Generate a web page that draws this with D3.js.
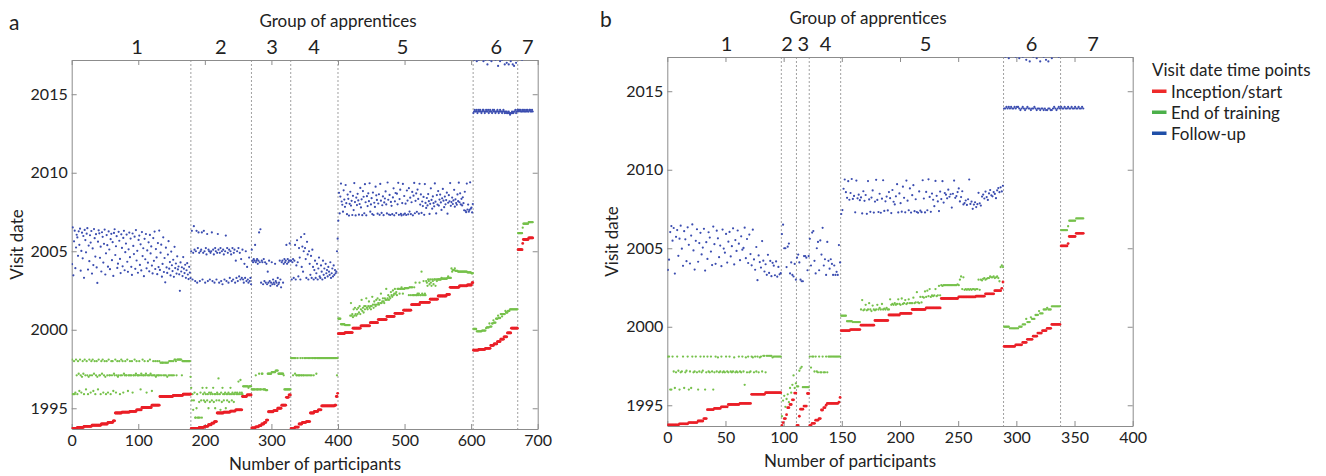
<!DOCTYPE html>
<html>
<head>
<meta charset="utf-8">
<script src="https://cdn.jsdelivr.net/npm/d3@7"></script>
<style>
body { margin: 0; background: #fff; }
text { font-family: Lato, "Open Sans", sans-serif; fill: #222; }
</style>
</head>
<body>
<div id="chart-area"></div>
<script>
/*
*    visit dates per participant, two panels (a, b)
*/

// ---- shared ----
var groupNames = ["1", "2", "3", "4", "5", "6", "7"];
var yearTicks = [1995, 2000, 2005, 2010, 2015];
var yearDomain = [1993.68, 2017.18];
var legendTitle = "Visit date time points";
var legendLabels = ["Inception/start", "End of training", "Follow-up"];
var legendColors = ["#ee2a2a", "#4cb04a", "#1f4fa8"];

// runs: [count, year] repeats a value, a plain number is one participant

// ---- panel a ----
var groupsA = [179, 91, 59, 71, 203, 67, 23];
var groupLabelPosA = [98, 224, 301, 364, 497, 638, 685];
var xTicksA = [0, 100, 200, 300, 400, 500, 600, 700];

var inceptionA = [
  // 1
  [8,1993.72],[10,1993.78],[12,1993.85],[14,1993.92],[10,1994.0],[8,1994.1],[3,1994.2],
  [10,1994.7],[12,1994.75],[10,1994.8],[8,1994.9],[15,1995.05],[12,1995.2],
  [20,1995.75],[15,1995.82],[12,1995.9],
  // 2
  [12,1993.72],[8,1993.78],[6,1993.85],[5,1993.95],[4,1994.05],[4,1994.15],
  [10,1994.7],[10,1994.75],[8,1994.82],[10,1994.9],[7,1995.75],[7,1995.85],
  // 3
  [6,1993.75],[5,1993.82],[4,1993.9],[4,1994.0],[3,1994.1],[3,1994.25],
  [8,1994.78],[6,1994.85],[6,1995.0],[7,1995.2],[4,1995.7],[3,1995.85],
  // 4
  [6,1993.72],[6,1993.8],[5,1994.0],[6,1994.1],[6,1994.15],
  [6,1994.7],[6,1994.8],[5,1994.9],[20,1995.15],[2,1995.2],[2,1995.75],[1,1995.95],
  // 5
  [10,1999.75],[12,1999.82],[12,2000.1],[14,2000.25],[12,2000.45],[13,2000.65],[12,2000.85],
  [13,2001.05],[12,2001.25],[13,2001.6],[15,2001.75],[12,2001.95],[13,2002.15],[5,2002.25],
  [14,2002.7],[12,2002.8],[7,2002.85],[2,2003.0],
  // 6
  [8,1998.7],[10,1998.75],[8,1998.82],[5,1999.0],[5,1999.1],[5,1999.25],[5,1999.4],[5,1999.55],[6,1999.8],[10,2000.1],
  // 7
  [7,2005.1],[1,2005.5],[8,2005.75],[7,2005.85]
];

var endTrainingA = [
  // 1
  1998.1,1995.9,1995.9,1998.0,1995.9,1996.0,1998.1,1997.1,1995.9,1998.0,
  1997.2,1996.1,1998.1,1997.1,1996.0,1997.0,1998.0,1997.2,1995.9,1998.1,
  1997.1,1996.2,1998.0,1997.1,1995.9,1997.0,1998.1,1997.1,1996.0,1998.0,
  1997.1,1998.1,1996.1,1997.2,1998.0,1995.9,1997.1,1998.0,1997.0,1996.2,
  1998.1,1997.1,1997.1,1995.9,1998.0,1997.2,1998.1,1996.0,1997.1,1998.0,
  1997.0,1995.9,1998.0,1997.1,1996.0,1998.1,1997.1,1997.1,1995.9,1998.0,
  1997.1,1998.0,1996.1,1997.2,1997.1,1998.1,1996.0,1997.1,1998.0,1997.0,
  1997.1,1998.0,1995.9,1997.1,1998.1,1997.1,1998.0,1996.0,1997.2,1997.1,
  1998.0,1997.1,1997.1,1998.1,1996.1,1997.1,1997.1,1998.0,1997.1,1997.1,
  1998.0,1996.0,1997.1,1997.1,1998.1,1997.1,1997.2,1998.0,1997.1,1997.1,
  1997.1,1998.0,1997.1,1996.2,1997.2,1997.1,1998.1,1997.1,1997.1,1998.0,
  1997.1,1997.2,1996.0,1997.1,1998.0,1997.1,1997.1,1998.1,1997.2,1997.1,
  1996.1,1997.1,1998.0,1997.1,1997.1,1998.0,1997.0,1997.1,1998.0,1997.1,
  1997.1,1998.0,1997.1,1997.9,1997.1,1997.9,1997.9,1997.1,1997.9,1997.1,
  1997.9,1997.1,1997.9,1997.0,1997.9,1997.1,1998.0,1997.1,1998.0,1997.1,
  1998.0,1997.1,1998.0,1997.1,1998.1,1998.1,1998.0,1997.1,1998.1,1998.1,
  [5,1998.1],1997.1,[12,1998.0],1997.0,
  // 2
  1996.3,1995.5,1995.9,1994.9,1995.5,1996.0,1994.4,1994.4,1995.0,1995.9,
  1994.4,1994.4,1995.4,1994.4,1996.0,1995.5,1994.4,1996.3,1995.9,1995.5,
  1996.0,1995.4,1995.9,1996.3,1995.5,1995.9,1995.0,1996.0,1995.4,1995.9,
  1996.0,1995.5,1995.9,1996.3,1995.4,1995.9,1995.0,1995.9,1995.5,1996.0,
  1995.9,1996.9,1995.5,1995.9,1994.9,1996.0,1995.4,1996.3,1995.9,1995.5,
  1995.9,1996.0,1995.0,1995.9,1995.5,1995.9,1996.0,1995.4,1995.9,1996.3,
  1995.9,1995.5,1996.0,1995.9,1995.4,1995.9,1996.0,1994.9,1995.9,1996.0,
  1995.9,1996.7,1995.9,1996.0,1996.8,1995.9,1996.0,1995.9,1996.4,1996.4,
  [6,1996.4],1996.3,[4,1996.4],
  // 3
  [6,1996.2],1997.1,[4,1996.2],1997.2,[3,1996.2],[2,1997.2],[4,1996.2],[3,1996.15],
  [6,1997.2],[6,1997.3],[4,1997.4],[8,1997.2],1997.1,[10,1996.2],
  // 4
  1998.2,1998.2,1998.2,1997.1,1998.2,1998.2,1997.2,1998.2,1997.1,1997.1,
  1998.2,1997.1,1997.1,1997.1,1998.2,1997.1,1997.1,1998.2,1997.1,1997.1,
  1998.2,1997.1,1998.2,1997.1,1998.2,1997.1,1998.2,1997.1,1998.2,1997.1,
  1998.2,1997.1,1998.2,1998.2,1997.1,1998.2,1998.2,1998.2,1997.2,1998.2,
  [29,1998.2],1997.1,1998.2,
  // 5
  [4,2000.7],[6,2000.35],
  [8,2000.3],2000.9,2001.7,
  2000.9,2001.0,2000.8,2001.3,2000.9,2001.4,2001.0,2000.9,2001.3,2001.0,
  2001.4,2001.1,2001.5,2001.0,2001.3,2001.9,2001.2,2001.4,2001.1,2001.5,
  2001.3,2001.5,2002.0,2001.4,2001.3,2001.5,2001.8,2001.4,2001.5,2001.3,
  2001.5,2002.1,2001.6,2001.4,2001.8,2001.6,2001.5,2001.9,2001.6,2002.0,
  2001.7,2001.6,2001.9,2001.7,2002.3,2001.7,2001.8,2002.0,2001.8,2001.7,
  2002.0,2001.9,2002.6,2001.9,2002.0,2002.2,2001.9,2002.1,2002.0,2002.4,
  2002.2,2002.1,2002.5,2002.2,2002.3,2002.6,2002.3,2002.4,2002.2,2002.6,
  2002.6,2002.6,2002.3,2002.6,2002.6,2002.7,2002.6,2002.3,2002.6,2002.6,
  [6,2002.65],2002.2,2002.7,2002.7,2002.2,
  2002.7,2002.7,2002.2,2002.2,2002.7,2002.2,2003.0,2002.2,2002.2,2002.3,
  2002.2,2002.3,2003.0,2002.2,2002.2,2003.7,2002.3,2002.2,2003.1,2002.2,
  2002.3,2002.2,2003.1,2003.0,2002.8,2003.2,2003.1,2002.9,2003.2,2003.0,
  2002.8,2003.2,2003.1,2002.9,2003.2,2003.2,2002.8,2003.2,2003.1,2003.2,
  [5,2003.2],2003.3,[4,2003.25],
  [4,2003.25],2003.3,2003.4,[4,2003.3],
  2003.9,2003.7,[3,2003.8],2003.9,[4,2003.75],
  [10,2003.7],
  [4,2003.7],[6,2003.65],
  [3,2003.6],
  // 6
  [5,2000.05],[8,1999.9],[6,1999.95],2000.1,[4,2000.15],2000.4,[3,2000.2],[2,2000.4],2000.6,
  [3,2000.45],[3,2000.7],2000.9,[3,2000.75],[2,2001.0],2000.85,[4,2001.0],2001.2,[3,2001.1],
  [3,2001.2],[12,2001.3],
  // 7
  [7,2006.15],[1,2006.5],[8,2006.75],[7,2006.85]
];

// follow-up, years after 2000, one per participant
var followUpA = [
  // 1
  4.18,6.52,3.47,5.63,6.31,3.92,5.24,6.05,5.88,4.71,6.27,5.41,6.44,3.76,5.02,6.18,4.55,5.97,3.31,6.36,
  5.71,4.93,6.12,6.47,3.83,5.36,4.37,6.02,5.55,6.29,3.58,5.18,4.12,6.41,5.83,4.66,6.09,3.97,2.98,5.61,
  6.33,6.14,4.58,5.29,3.71,6.21,5.92,4.28,5.47,6.38,3.52,4.87,6.03,5.39,4.02,6.26,5.11,3.86,5.77,6.11,
  4.43,5.58,3.43,6.17,6.40,4.76,5.32,5.96,3.94,4.21,6.24,5.67,4.51,3.61,6.08,5.21,4.04,5.85,6.30,3.79,
  4.94,5.49,6.06,4.33,3.69,5.12,6.19,4.62,5.81,4.01,3.49,6.13,5.34,4.82,5.93,3.88,6.35,4.41,5.03,3.63,
  5.72,6.00,4.13,5.44,3.78,6.22,4.69,5.19,3.41,5.79,4.49,6.10,3.91,5.05,4.27,5.57,3.72,6.04,4.86,5.31,
  4.09,3.59,5.84,4.39,6.25,3.87,5.14,4.61,3.54,5.52,3.99,6.32,3.81,4.91,5.42,3.38,4.19,5.89,3.68,4.57,
  3.02,5.23,3.97,3.62,4.79,5.64,3.89,4.31,3.46,4.98,4.11,3.74,4.46,3.37,5.28,3.93,4.22,3.58,4.68,3.84,
  4.03,3.53,2.48,4.29,3.71,3.98,3.42,4.63,3.89,3.61,4.14,3.31,3.79,4.24,3.52,3.23,4.01,3.64,3.29,
  // 2
  5.0,6.3,3.2,4.9,6.6,5.1,3.1,5.0,6.3,3.0, 5.2,6.2,4.9,3.1,5.0,5.1,6.2,3.2,4.9,6.3,
  5.0,3.0,5.2,4.8,6.1,3.1,5.1,5.0,3.2,4.9, 5.0,6.2,3.1,5.1,4.8,3.0,5.2,5.0,3.2,4.9,
  6.1,5.1,3.0,4.9,5.2,3.1,5.0,2.9,5.1,4.8, 3.2,5.0,6.0,3.1,5.2,4.9,3.0,5.1,3.3,5.0,
  4.8,3.1,5.2,3.2,4.9,5.1,3.0,4.4,3.3,5.0, 3.1,5.2,3.4,4.9,3.2,4.5,3.3,5.1,3.2,3.0,
  4.2,3.3,5.0,3.1,4.0,3.2,3.0,4.6,3.1,3.3,2.9,
  // 3
  5.1,4.4,4.3,4.5,4.4,5.4,4.3,4.4,4.5,4.2, 4.4,6.2,4.3,6.4,3.0,4.4,4.3,2.9,4.5,3.1,
  4.3,3.0,4.2,2.9,3.7,3.0,4.4,3.1,2.8,3.0, 4.3,2.9,3.2,3.0,2.9,4.2,3.1,3.0,2.8,3.3,
  2.9,3.0,4.4,3.2,2.7,4.3,4.4,3.0,4.2,4.5, 4.3,4.4,5.4,4.2,4.5,4.3,4.4,5.5,4.4,
  // 4
  4.4,3.2,4.3,4.5,3.3,4.4,5.4,3.2,4.1,5.7, 4.3,3.4,5.2,4.6,3.2,5.9,4.0,5.3,3.7,5.0,
  6.1,5.2,4.5,3.3,5.6,4.8,3.2,5.0,4.2,3.5, 4.7,3.3,5.1,4.0,3.2,3.8,4.4,3.3,3.6,4.2,
  3.2,3.9,4.6,3.4,3.3,4.1,3.7,3.2,4.4,3.5, 3.9,3.3,4.2,3.6,3.8,3.4,4.0,3.7,3.5,4.3,
  3.3,3.6,3.9,3.4,4.1,3.5,3.8,3.6,3.7,5.0,5.8,
  // 5
  6.95,8.72,7.41,8.48,9.31,8.17,7.96,7.52,8.88,8.29,7.83,9.22,8.06,7.36,8.61,8.34,7.27,8.02,8.79,7.91,
  8.21,7.31,8.53,7.62,9.34,8.13,7.28,8.42,7.94,8.66,8.24,7.33,8.01,9.03,7.79,8.31,7.30,8.83,8.47,7.42,
  9.27,8.12,7.29,8.51,7.88,8.69,8.19,9.33,7.52,7.98,8.38,7.37,8.74,7.31,8.09,7.82,9.11,8.56,8.27,7.39,
  8.04,8.63,7.32,9.29,8.22,7.44,7.93,8.49,7.30,8.11,8.36,8.81,7.98,7.41,9.38,8.28,7.34,8.59,7.31,8.14,
  7.89,7.36,8.43,9.01,7.29,8.18,8.71,7.43,8.67,7.99,9.36,7.32,8.32,8.92,7.38,7.28,8.07,9.29,7.33,8.52,
  7.40,8.03,7.31,8.87,8.23,7.35,9.02,7.53,8.41,7.37,8.12,8.78,7.29,8.54,9.35,7.42,8.21,8.68,7.51,8.93,
  8.33,7.39,9.30,7.97,8.62,7.44,8.17,7.88,8.46,7.32,9.28,8.08,7.76,8.39,7.92,8.64,8.19,7.38,8.02,9.01,
  8.27,7.71,8.49,8.06,7.86,9.32,8.16,7.41,8.58,7.97,8.83,7.91,8.29,8.61,8.11,7.63,8.37,8.97,8.22,7.81,
  8.48,7.99,8.26,8.73,7.39,8.09,8.57,8.18,9.34,7.89,8.13,8.42,8.01,8.24,8.91,7.84,8.31,8.07,7.96,8.62,
  8.19,9.37,8.12,8.69,7.98,8.34,7.92,8.44,8.06,7.61,8.79,7.58,7.49,9.31,7.66,7.97,7.52,7.63,9.39,7.71,
  7.78,7.47,8.01,
  // 6
  13.8,13.9,14.0,13.9,13.9,14.0,13.8,13.9,14.0,13.9, 14.0,13.9,13.8,13.9,14.0,14.0,13.9,13.8,13.9,14.0,
  13.9,13.9,14.0,13.8,13.9,14.0,13.9,13.9,13.8,14.0, 13.9,14.0,13.9,13.8,13.9,13.9,14.0,13.9,13.8,13.9,
  14.0,13.9,13.9,13.8,13.9,14.0,13.9,13.8,13.9,13.8, 13.9,13.8,13.8,13.9,13.8,13.7,13.8,13.8,13.9,13.8,
  13.8,13.9,13.9,14.0,13.8,13.9,14.0,
  // 7
  13.9,14.0,14.0,13.9,14.0,13.9,13.9,14.0,13.9,14.0, 13.9,13.9,14.0,13.9,14.0,13.9,13.9,14.0,14.0,13.9,
  13.9,14.0,13.9
];

// second follow-up visits in group 6/7: [participant, years after 2000]
var followUp2A = [
  [604,17.2],[608,17.1],[611,17.2],[615,17.3],[618,17.1],[621,17.2],[624,16.9],[627,17.2],
  [630,17.1],[633,17.3],[636,17.2],[640,16.8],[643,17.1],[646,17.2],[650,16.9],[653,17.0],
  [656,16.9],[659,17.1],[662,16.9],[664,16.8],[667,17.0],[676,17.2]
];

// ---- panel b ----
var groupsB = [98, 13, 11, 27, 140, 49, 20];
var groupLabelPosB = [51, 103, 117, 136, 222, 313, 366];
var xTicksB = [0, 50, 100, 150, 200, 250, 300, 350, 400];

var inceptionB = [
  // 1
  [10,1993.75],[8,1993.82],[8,1993.9],[5,1994.0],[3,1994.15],
  [6,1994.72],[6,1994.8],[6,1994.9],[10,1995.05],[10,1995.12],[12,1995.7],[14,1995.8],
  // 2
  [1,1993.72],[1,1993.9],[2,1994.15],[1,1994.4],[2,1994.85],[2,1995.05],[2,1995.35],[2,1995.78],
  // 3
  [2,1993.72],[1,1994.3],[3,1994.75],[3,1994.95],[2,1995.75],
  // 4
  [2,1993.72],[3,1993.85],[3,1994.05],[2,1994.15],[2,1994.7],[2,1994.85],[1,1995.0],[10,1995.12],[1,1995.2],[1,1995.5],
  // 5
  [8,1999.75],[9,1999.82],[12,2000.1],[12,2000.4],[10,2000.75],[10,2000.85],[12,2001.1],[13,2001.2],
  [15,2001.8],[15,2001.9],[8,2001.95],[8,2002.1],[6,2002.3],[1,2002.45],[1,2002.85],
  // 6
  [10,1998.75],[6,1998.85],[4,1999.0],[5,1999.2],[4,1999.4],[4,1999.6],[4,1999.75],[4,1999.9],[8,2000.15],
  // 7
  [6,2005.15],[1,2005.3],[6,2005.75],[7,2005.95]
];

var endTrainingB = [
  // 1
  1998.1,1998.1,1996.0,1996.0,1998.1,1997.15,1996.1,1997.1,1998.1,1997.2,
  1996.0,1997.1,1997.15,1998.1,1996.1,1997.1,1997.2,1998.1,1996.0,1997.15,
  1996.1,1998.1,1997.1,1997.15,1998.1,1997.1,1996.0,1997.15,1998.1,1997.1,
  1997.2,1998.1,1996.0,1997.1,1998.1,1997.15,1997.1,1998.1,1997.15,1996.0,
  1997.1,1998.1,1997.15,1998.05,1997.1,1997.15,1998.1,1997.1,1997.15,1997.1,
  1998.1,1997.15,1997.1,1998.1,1997.15,1997.1,1997.15,1998.05,1997.1,1997.15,
  1997.1,1998.1,1997.15,1997.1,1998.1,1997.15,1996.3,1998.05,1997.1,1998.1,
  1997.1,1997.15,1998.1,1998.05,1997.1,1998.1,1997.15,1998.1,1997.1,1998.05,
  1998.1,1997.15,1998.15,1998.15,1997.1,1998.15,[4,1998.15],1998.05,[7,1998.1],
  // 2
  1994.3,1995.3,1995.6,1994.9,1995.4,1995.7,1995.2,1996.1,1995.8,1996.3,1996.9,1996.1,1996.4,
  // 3
  [2,1996.2],1997.2,1997.35,1997.45,[6,1996.15],
  // 4
  1998.1,1997.4,[2,1998.1],1997.15,1998.1,1997.15,1997.1,1998.1,[2,1997.1],1998.1,1997.1,1997.1,
  1998.1,1997.1,[11,1998.1],
  // 5
  [5,2000.7],[5,2000.35],
  [7,2000.3],2001.1,2001.7,2001.05,
  2001.1,2001.4,2001.05,2001.1,2001.5,2001.1,2001.0,2001.35,2001.1,2001.05,
  2001.1,2001.4,2001.1,2001.2,2001.1,2001.45,2001.1,2001.15,2001.1,2001.2,
  2001.1,2001.1,2001.75,2001.4,2001.45,2001.4,2001.5,2001.4,2001.45,2001.75,
  2001.45,2001.4,2001.8,2001.45,2001.5,2001.7,2001.45,2001.5,2001.75,2001.5,
  2001.5,2001.5,2001.85,2001.5,2001.55,2002.2,2001.55,2001.5,2001.9,2001.55,
  2001.9,2001.85,2002.25,2001.9,2002.3,2001.95,2002.4,2001.9,2002.0,2001.95,
  2002.0,2002.4,2001.95,2002.0,2002.6,2002.0,2002.65,2002.6,2002.65,2002.65,
  [10,2002.65],
  2002.7,2002.65,2003.0,2003.2,2002.4,2003.15,2002.35,2002.4,2002.35,2002.4,
  2002.35,2002.4,2002.35,2002.4,2002.4,2002.35,2002.4,2002.4,2003.0,2002.35,
  2003.0,2002.95,2003.05,2003.1,2003.0,2003.05,2003.1,2003.1,2003.2,2003.15,
  2003.15,2003.2,2003.1,2003.15,2003.2,2003.1,2002.9,2003.8,2003.9,2003.8,
  // 6
  [5,2000.0],[8,1999.9],[3,2000.0],[3,2000.15],2000.5,[3,2000.3],2000.6,[3,2000.5],[3,2000.75],
  2001.0,[3,2000.85],[3,2001.1],2001.2,[3,2001.1],[8,2001.3],
  // 7
  [6,2006.15],[1,2006.4],[6,2006.75],[7,2006.9]
];

var followUpB = [
  // 1
  3.62,4.27,6.03,6.41,5.48,6.29,3.39,5.73,6.16,4.52,5.61,6.44,4.97,3.88,6.09,5.57,4.18,6.33,5.22,4.03,
  5.81,6.52,4.86,3.64,5.47,6.21,4.14,5.33,5.98,4.61,5.04,6.24,3.58,5.39,4.32,6.02,5.68,4.79,3.93,6.38,
  5.26,4.01,6.12,5.63,4.43,5.17,3.86,6.19,4.98,4.72,5.91,4.09,5.42,6.04,4.48,5.13,6.27,3.97,5.52,4.83,
  6.13,5.29,4.24,5.76,4.91,5.02,6.31,4.37,5.59,4.06,5.87,4.63,3.91,6.18,4.29,3.63,5.08,2.97,4.54,4.12,
  3.77,5.46,4.21,3.52,3.98,3.31,4.58,3.43,4.19,3.22,4.07,3.89,3.28,4.16,3.19,3.81,3.34,3.41,
  // 2
  5.9,6.5,5.0,5.0,3.8,5.1,5.3,3.4,4.1,3.3,3.2,4.0,3.0,
  // 3
  4.4,4.6,4.1,3.0,2.9,2.9,4.5,4.5,4.4,3.6,4.5,
  // 4
  5.6,3.9,6.0,6.1,4.2,3.4,5.0,5.4,3.6,5.5, 4.6,6.3,3.9,4.3,3.3,5.4,4.2,3.7,4.3,4.0,
  3.3,3.9,3.3,3.5,3.3,5.2,4.1,
  // 5
  7.18,7.43,8.79,9.38,8.57,8.21,9.27,8.09,8.52,9.41,8.14,8.33,7.29,9.31,8.18,8.41,8.06,8.24,7.22,8.63,
  8.02,8.39,7.19,9.28,8.11,7.32,8.23,8.68,7.27,7.97,9.36,8.08,7.31,8.47,7.26,8.16,9.33,7.38,7.99,8.29,
  7.41,8.58,8.19,7.24,8.71,7.96,7.79,8.31,9.08,7.28,8.49,7.87,7.33,8.92,8.21,7.29,9.31,8.03,7.42,8.81,
  7.27,8.38,9.02,7.36,8.12,7.31,7.26,8.62,7.39,7.30,9.33,8.17,7.28,8.59,7.42,9.39,8.27,7.32,8.48,8.09,
  7.68,9.29,8.34,7.98,7.37,8.61,8.13,9.27,7.91,8.52,8.41,8.18,8.73,8.28,8.44,7.59,8.47,9.31,8.21,8.32,
  8.58,8.81,7.98,8.26,8.63,7.79,7.88,8.04,7.76,8.12,9.38,7.82,7.97,7.51,7.78,7.93,7.62,7.81,8.53,7.86,
  7.72,8.29,8.42,8.17,8.61,8.26,8.08,8.49,8.71,8.37,8.31,8.58,8.46,8.19,8.69,8.83,8.57,8.88,8.62,8.98,
  // 6
  13.9,13.9,14.0,13.9,14.0,13.9,14.0,13.9,13.9,14.0, 13.9,14.0,14.0,13.9,13.8,13.9,14.0,13.9,13.8,13.9,
  14.0,13.9,13.9,13.8,13.9,13.9,14.0,13.9,13.8,13.9, 13.9,13.8,13.9,13.9,13.8,13.9,13.8,13.8,13.9,13.9,
  13.8,13.8,13.9,14.0,13.9,13.8,13.9,14.0,13.9,
  // 7
  14.0,13.9,13.9,14.0,13.9,13.9,14.0,13.9,13.9,14.0, 13.9,13.9,14.0,13.9,13.9,14.0,13.9,13.9,14.0,13.9
];

var followUp2B = [
  [290,17.2],[293,17.1],[296,17.3],[299,17.2],[302,17.1],[305,17.2],[308,17.0],[311,16.9],
  [314,17.2],[317,17.1],[320,16.9],[323,17.2],[325,17.0],[327,16.9],[330,17.1],[336,17.2]
];

// ---- drawing ----
var pointColors = { start: "#ea1f27", end: "#76c14b", follow: "#3b4db0" };
var axisColor = "#8c8c8c";

function expand(runs) {
  var out = [];
  runs.forEach(function(r) {
    if (Array.isArray(r)) {
      for (var i = 0; i < r[0]; i++) out.push(r[1]);
    } else {
      out.push(r);
    }
  });
  return out;
}

var svg = d3.select("#chart-area").append("svg")
    .attr("width", 1326)
    .attr("height", 476);

function drawPanel(p) {
    var x = d3.scaleLinear().domain([0, p.xMax]).range([p.left, p.right]);
    var y = d3.scaleLinear().domain(yearDomain).range([p.bottom, p.top]);
    var g = svg.append("g");

    g.append("clipPath").attr("id", "clip-" + p.id)
      .append("rect")
        .attr("x", p.left).attr("y", p.top)
        .attr("width", p.right - p.left).attr("height", p.bottom - p.top);

    // group dividers
    var bounds = Array.from(d3.cumsum(p.groups)).slice(0, -1);
    g.selectAll(".divider").data(bounds).enter().append("line")
        .attr("x1", d => x(d)).attr("x2", d => x(d))
        .attr("y1", p.top).attr("y2", p.bottom)
        .attr("stroke", "#a0a0a0")
        .attr("stroke-width", 1)
        .attr("stroke-dasharray", "2,2");

    // axes, ticks pointing inwards on all four sides
    var xAxisCall = d3.axisBottom(x).tickValues(p.xTicks).tickSizeInner(-5).tickSizeOuter(0).tickPadding(6);
    var xTopCall = d3.axisTop(x).tickValues(p.xTicks).tickSizeInner(-5).tickSizeOuter(0).tickFormat("");
    var yAxisCall = d3.axisLeft(y).tickValues(yearTicks).tickSizeInner(-5).tickSizeOuter(0).tickPadding(4).tickFormat(d3.format("d"));
    var yRightCall = d3.axisRight(y).tickValues(yearTicks).tickSizeInner(-5).tickSizeOuter(0).tickFormat("");

    var axes = [
      g.append("g").attr("transform", "translate(0," + p.bottom + ")").call(xAxisCall),
      g.append("g").attr("transform", "translate(0," + p.top + ")").call(xTopCall),
      g.append("g").attr("transform", "translate(" + p.left + ",0)").call(yAxisCall),
      g.append("g").attr("transform", "translate(" + p.right + ",0)").call(yRightCall)
    ];
    axes.forEach(function(a) {
      a.select(".domain").attr("stroke", axisColor);
      a.selectAll(".tick line").attr("stroke", axisColor);
      a.selectAll(".tick text").attr("fill", "#222").style("font-size", "16px")
        .style("font-family", "Lato, 'Open Sans', sans-serif");
    });

    // points
    var pts = g.append("g").attr("clip-path", "url(#clip-" + p.id + ")");
    var series = [
      { vals: p.followUp.map(v => 2000 + v), color: pointColors.follow, r: 1.1 },
      { vals: expand(p.endTraining), color: pointColors.end, r: 1.15 },
      { vals: expand(p.inception), color: pointColors.start, r: 1.4 }
    ];
    series.forEach(function(s) {
      pts.append("g").selectAll("circle").data(s.vals).enter().append("circle")
          .attr("cx", (d, i) => x(i + 0.5))
          .attr("cy", d => y(d))
          .attr("r", s.r)
          .attr("fill", s.color);
    });
    pts.append("g").selectAll("circle").data(p.followUp2).enter().append("circle")
        .attr("cx", d => x(d[0] + 0.5))
        .attr("cy", d => y(2000 + d[1]))
        .attr("r", 1.1)
        .attr("fill", pointColors.follow);

    // group labels
    g.selectAll(".glabel").data(groupNames).enter().append("text")
        .attr("x", (d, i) => x(p.labelPos[i]))
        .attr("y", p.top - 6)
        .attr("text-anchor", "middle")
        .style("font-size", "20px")
        .text(d => d);

    g.append("text")
        .attr("x", p.groupTitleX).attr("y", p.top - 33)
        .attr("text-anchor", "middle")
        .style("font-size", "17px")
        .text("Group of apprentices");

    g.append("text")
        .attr("x", p.xTitleX).attr("y", p.bottom + 41)
        .attr("text-anchor", "middle")
        .style("font-size", "17px")
        .text("Number of participants");

    g.append("text")
        .attr("transform", "translate(" + (p.left - 49) + "," + ((p.top + p.bottom) / 2) + ") rotate(-90)")
        .attr("text-anchor", "middle")
        .style("font-size", "17px")
        .text("Visit date");

    g.append("text")
        .attr("x", p.letterX).attr("y", p.top - 30)
        .style("font-size", "21px")
        .text(p.id);
}

drawPanel({
    id: "a", left: 71.7, right: 537.7, top: 60, bottom: 429, xMax: 700,
    xTicks: xTicksA, groups: groupsA, labelPos: groupLabelPosA,
    inception: inceptionA, endTraining: endTrainingA,
    followUp: followUpA, followUp2: followUp2A,
    groupTitleX: 338, xTitleX: 315, letterX: 9
});

drawPanel({
    id: "b", left: 667.3, right: 1132.7, top: 57, bottom: 426, xMax: 400,
    xTicks: xTicksB, groups: groupsB, labelPos: groupLabelPosB,
    inception: inceptionB, endTraining: endTrainingB,
    followUp: followUpB, followUp2: followUp2B,
    groupTitleX: 868, xTitleX: 850, letterX: 600
});

// legend
var legend = svg.append("g").attr("transform", "translate(1152,0)");
legend.append("text").attr("x", 0).attr("y", 76)
    .style("font-size", "17px")
    .text(legendTitle);
legendLabels.forEach(function(label, i) {
    legend.append("rect")
        .attr("x", 0).attr("y", 89.5 + i * 21)
        .attr("width", 14.5).attr("height", 3.5)
        .attr("fill", legendColors[i]);
    legend.append("text")
        .attr("x", 19).attr("y", 97.5 + i * 21)
        .style("font-size", "17px")
        .text(label);
});
</script>
</body>
</html>
